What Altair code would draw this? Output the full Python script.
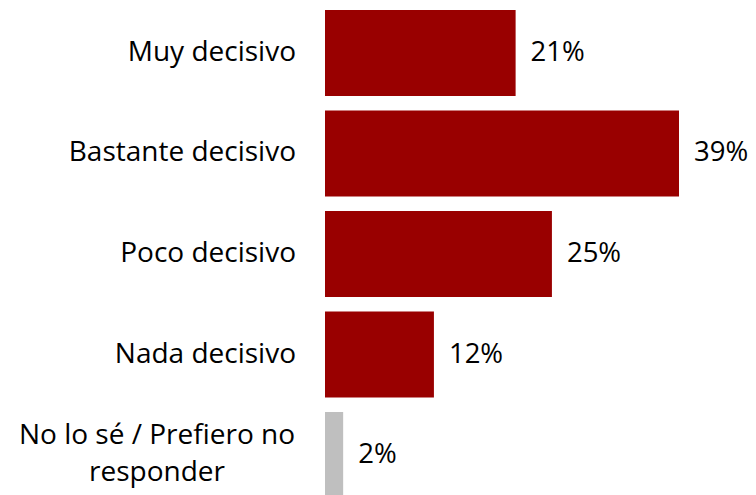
import altair as alt
import pandas as pd

categories = ["Muy decisivo", "Bastante decisivo", "Poco decisivo", "Nada decisivo",
              "No lo sé / Prefiero no\nresponder"]
values = [21, 39, 25, 12, 2]
colors = ["#990000", "#990000", "#990000", "#990000", "#BFBFBF"]

df = pd.DataFrame({"cat": categories, "val": values, "color": colors,
                   "pct": [f"{v}%" for v in values],
                   "last": [False, False, False, False, True]})

FONT = "Open Sans"
FS = 28

y = alt.Y("cat:N", sort=categories, axis=None,
          scale=alt.Scale(paddingInner=0.145, paddingOuter=0))
x = alt.X("val:Q", axis=None, scale=alt.Scale(domain=[0, 39], nice=False, zero=True))

base = alt.Chart(df)

bars = base.mark_bar().encode(x=x, y=y, color=alt.Color("color:N", scale=None))

pct = base.mark_text(align="left", baseline="middle", dx=15, font=FONT, fontSize=27.5,
                     color="#000000").encode(x=x, y=y, text="pct:N")

lab = base.transform_filter("!datum.last").mark_text(
    align="right", baseline="middle", dx=-29, font=FONT, fontSize=FS, color="#000000"
).encode(x=alt.datum(0), y=y, text="cat:N")

lab2 = base.transform_filter("datum.last").mark_text(
    align="center", baseline="middle", dx=-168, dy=-19, font=FONT, fontSize=FS,
    color="#000000", lineBreak="\n", lineHeight=37
).encode(x=alt.datum(0), y=y, text="cat:N")

chart = alt.layer(bars, pct, lab, lab2).properties(
    width=354, height=488,
    autosize=alt.AutoSizeParams(type="none"),
    padding={"left": 317, "top": 2, "right": 69, "bottom": 0},
).configure_view(stroke=None)

chart.save("out.html", embed_options={"renderer": "svg", "actions": False})
